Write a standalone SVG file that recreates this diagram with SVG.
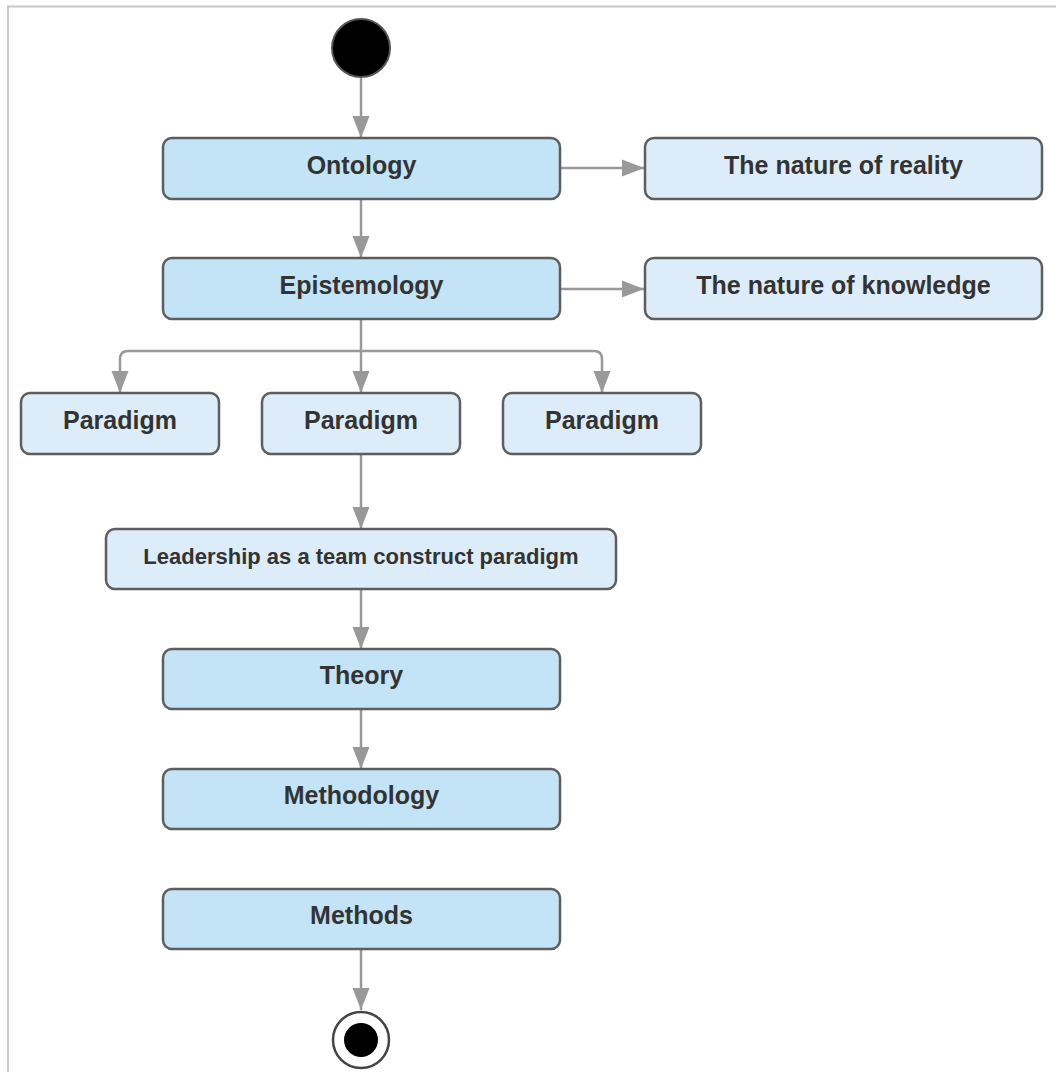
<svg xmlns="http://www.w3.org/2000/svg" width="1056" height="1072" viewBox="0 0 1056 1072">
  <style>
    .dark { fill: #c3e3f6; stroke: #5e5e5e; stroke-width: 2.5; }
    .light { fill: #dcedf9; stroke: #5e5e5e; stroke-width: 2.5; }
    .lbl { font-family: "Liberation Sans", Arial, sans-serif; font-weight: bold; font-size: 25px; fill: #333333; text-anchor: middle; }
    .small { font-size: 22px; }
    .edge { fill: none; stroke: #999999; stroke-width: 2.5; }
  </style>
  <defs>
    <marker id="arrow" markerUnits="userSpaceOnUse" markerWidth="24" markerHeight="20" viewBox="0 0 24 20" refX="22" refY="10" orient="auto">
      <path d="M0,1.5 L22,10 L0,18.5 Z" fill="#999999"/>
    </marker>
  </defs>

  <rect width="1056" height="1072" fill="#ffffff"/>
  <!-- frame -->
  <path d="M8,1072 V6.5 H1056" fill="none" stroke="#c8c8c8" stroke-width="2"/>

  <g id="connectors">
    <line class="edge" x1="361" y1="78" x2="361" y2="138" marker-end="url(#arrow)"/>
    <line class="edge" x1="361" y1="199" x2="361" y2="258" marker-end="url(#arrow)"/>
    <line class="edge" x1="561" y1="168" x2="644" y2="168" marker-end="url(#arrow)"/>
    <line class="edge" x1="561" y1="289" x2="644" y2="289" marker-end="url(#arrow)"/>
    <line class="edge" x1="361" y1="319" x2="361" y2="393" marker-end="url(#arrow)"/>
    <path class="edge" d="M361,351 H128 Q120,351 120,359 V393" marker-end="url(#arrow)"/>
    <path class="edge" d="M361,351 H594 Q602,351 602,359 V393" marker-end="url(#arrow)"/>
    <line class="edge" x1="361" y1="454" x2="361" y2="529" marker-end="url(#arrow)"/>
    <line class="edge" x1="361" y1="589" x2="361" y2="649" marker-end="url(#arrow)"/>
    <line class="edge" x1="361" y1="709" x2="361" y2="769" marker-end="url(#arrow)"/>
    <line class="edge" x1="361" y1="949" x2="361" y2="1010" marker-end="url(#arrow)"/>
  </g>

  <g id="start">
    <circle cx="361" cy="48" r="29" fill="#000000" stroke="#555555" stroke-width="2"/>
  </g>

  <g id="ontology">
    <rect class="dark" x="163" y="138" width="397" height="61" rx="9"/>
    <text class="lbl" x="361.5" y="174">Ontology</text>
  </g>
  <g id="nature-of-reality">
    <rect class="light" x="645" y="138" width="397" height="61" rx="9"/>
    <text class="lbl" x="843.5" y="174">The nature of reality</text>
  </g>

  <g id="epistemology">
    <rect class="dark" x="163" y="258" width="397" height="61" rx="9"/>
    <text class="lbl" x="361.5" y="294">Epistemology</text>
  </g>
  <g id="nature-of-knowledge">
    <rect class="light" x="645" y="258" width="397" height="61" rx="9"/>
    <text class="lbl" x="843.5" y="294">The nature of knowledge</text>
  </g>

  <g id="paradigm-1">
    <rect class="light" x="21" y="393" width="198" height="61" rx="9"/>
    <text class="lbl" x="120" y="429">Paradigm</text>
  </g>
  <g id="paradigm-2">
    <rect class="light" x="262" y="393" width="198" height="61" rx="9"/>
    <text class="lbl" x="361" y="429">Paradigm</text>
  </g>
  <g id="paradigm-3">
    <rect class="light" x="503" y="393" width="198" height="61" rx="9"/>
    <text class="lbl" x="602" y="429">Paradigm</text>
  </g>

  <g id="leadership-paradigm">
    <rect class="light" x="106" y="529" width="510" height="60" rx="9"/>
    <text class="lbl small" x="361" y="564">Leadership as a team construct paradigm</text>
  </g>

  <g id="theory">
    <rect class="dark" x="163" y="649" width="397" height="60" rx="9"/>
    <text class="lbl" x="361.5" y="684">Theory</text>
  </g>
  <g id="methodology">
    <rect class="dark" x="163" y="769" width="397" height="60" rx="9"/>
    <text class="lbl" x="361.5" y="804">Methodology</text>
  </g>
  <g id="methods">
    <rect class="dark" x="163" y="889" width="397" height="60" rx="9"/>
    <text class="lbl" x="361.5" y="924">Methods</text>
  </g>

  <g id="end">
    <circle cx="361" cy="1040" r="28" fill="#ffffff" stroke="#444444" stroke-width="2.5"/>
    <circle cx="361" cy="1040" r="17" fill="#000000"/>
  </g>
</svg>
